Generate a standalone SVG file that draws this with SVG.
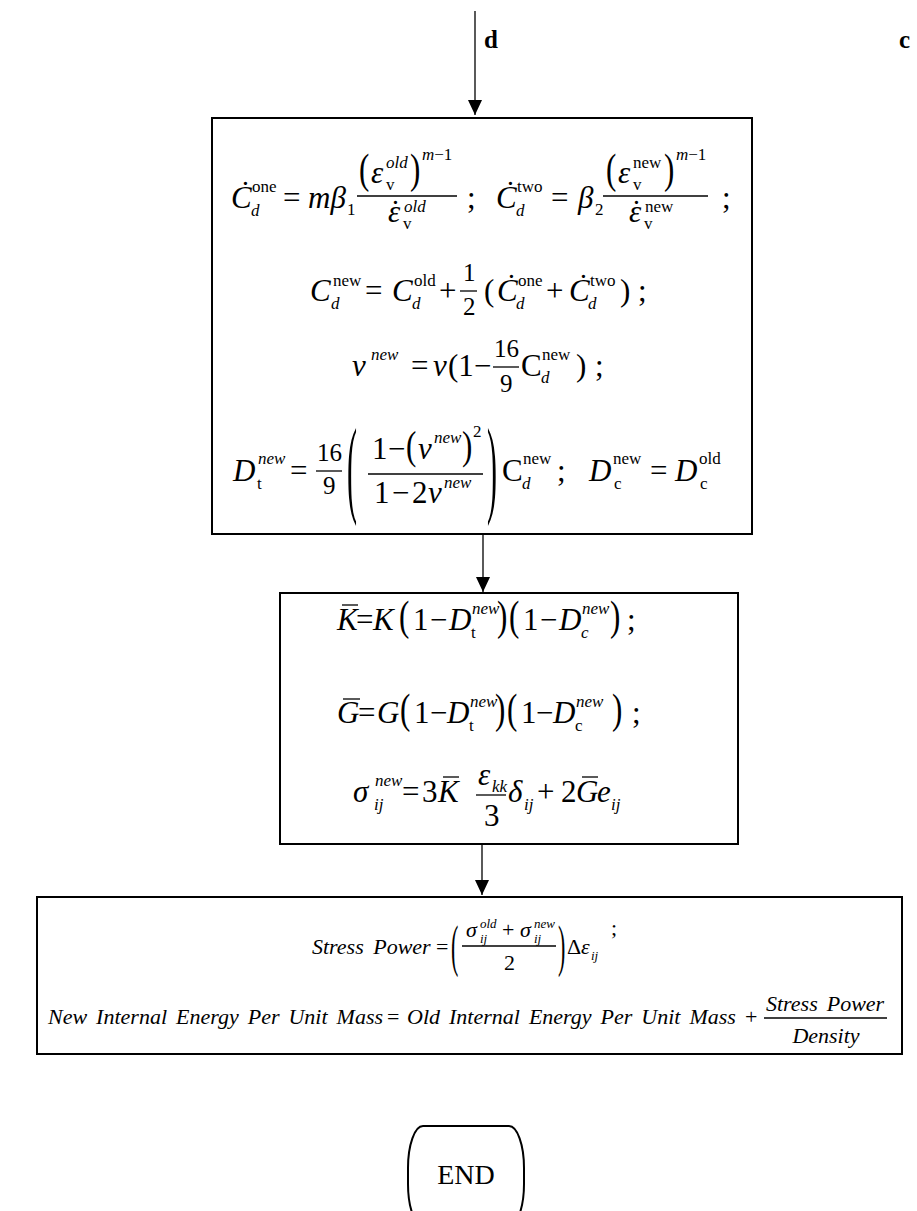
<svg xmlns="http://www.w3.org/2000/svg" width="917" height="1211" viewBox="0 0 917 1211">
<style>
text{font-family:"Liberation Serif","Times New Roman",serif;fill:#000}
.i{font-style:italic;font-size:31px}
.r{font-size:31px}
.f{font-size:25px}
.si{font-style:italic;font-size:17px}
.sr{font-size:17px}
.j{font-style:italic;font-size:22px}
.jr{font-size:22px}
.js{font-style:italic;font-size:13px}
.bd{font-weight:bold;font-size:25px}
.box{fill:none;stroke:#000;stroke-width:2}
.bar{stroke:#000;stroke-width:1.3}
.conn{stroke:#000;stroke-width:1.3;fill:none}
</style>
<defs>
<marker id="ah" viewBox="0 0 15 14" refX="15" refY="7" markerWidth="15" markerHeight="14" markerUnits="userSpaceOnUse" orient="auto">
<path d="M0,0 L15,7 L0,14 Z" fill="#000"/>
</marker>
</defs>
<rect width="917" height="1211" fill="#fff"/>

<g id="connectors">
<line class="conn" x1="475" y1="11" x2="475" y2="115" marker-end="url(#ah)"/>
<line class="conn" x1="483" y1="534" x2="483" y2="592" marker-end="url(#ah)"/>
<line class="conn" x1="482" y1="844" x2="482" y2="895" marker-end="url(#ah)"/>
<text class="bd" x="484" y="48">d</text>
<text class="bd" x="899" y="48">c</text>
</g>

<g id="box1">
<rect class="box" x="212" y="118" width="540" height="416"/>
<!-- line 1 -->
<text class="i" x="231" y="208">Ċ</text>
<text class="si" x="251" y="216">d</text>
<text class="sr" x="252" y="192">one</text>
<text class="r" x="283" y="208">=</text>
<text class="i" x="308" y="208">mβ</text>
<text class="sr" x="347" y="215">1</text>
<text class="r" transform="translate(359,183) scale(1,1.35)">(</text>
<text class="i" x="371" y="183">ε</text>
<text class="si" x="386" y="168">old</text>
<text class="sr" x="386" y="190">v</text>
<text class="r" transform="translate(410,183) scale(1,1.35)">)</text>
<text class="si" x="422" y="160">m<tspan font-style="normal">−1</tspan></text>
<line class="bar" x1="357" y1="196" x2="457" y2="196"/>
<text class="i" x="388" y="222">ε<tspan font-style="normal" dx="-10">˙</tspan></text>
<text class="si" x="404" y="212">old</text>
<text class="sr" x="403" y="229">v</text>
<text class="r" x="467" y="208">;</text>
<text class="i" x="496" y="208">Ċ</text>
<text class="si" x="516" y="216">d</text>
<text class="sr" x="517" y="192">two</text>
<text class="r" x="551" y="208">=</text>
<text class="i" x="578" y="208">β</text>
<text class="sr" x="595" y="215">2</text>
<text class="r" transform="translate(606,183) scale(1,1.35)">(</text>
<text class="i" x="618" y="183">ε</text>
<text class="sr" x="633" y="168">new</text>
<text class="sr" x="633" y="190">v</text>
<text class="r" transform="translate(664,183) scale(1,1.35)">)</text>
<text class="si" x="676" y="160">m<tspan font-style="normal">−1</tspan></text>
<line class="bar" x1="603" y1="196" x2="708" y2="196"/>
<text class="i" x="629" y="222">ε<tspan font-style="normal" dx="-10">˙</tspan></text>
<text class="sr" x="645" y="212">new</text>
<text class="sr" x="644" y="229">v</text>
<text class="r" x="722" y="208">;</text>
<!-- line 2 -->
<text class="i" x="310" y="301">C</text>
<text class="sr" x="333" y="286">new</text>
<text class="si" x="331" y="309">d</text>
<text class="r" x="365" y="301">=</text>
<text class="i" x="392" y="301">C</text>
<text class="sr" x="414" y="286">old</text>
<text class="si" x="412" y="309">d</text>
<text class="r" x="439" y="301">+</text>
<text class="f" x="463" y="281">1</text>
<line class="bar" x1="460" y1="291" x2="477" y2="291"/>
<text class="f" x="463" y="315">2</text>
<text class="r" x="484" y="301">(</text>
<text class="i" x="497" y="301">Ċ</text>
<text class="sr" x="518" y="286">one</text>
<text class="si" x="516" y="309">d</text>
<text class="r" x="546" y="301">+</text>
<text class="i" x="569" y="301">Ċ</text>
<text class="sr" x="590" y="286">two</text>
<text class="si" x="588" y="309">d</text>
<text class="r" x="620" y="301">)</text>
<text class="r" x="638" y="301">;</text>
<!-- line 3 -->
<text class="i" x="352" y="376">ν</text>
<text class="si" x="371" y="360">new</text>
<text class="r" x="411" y="376">=</text>
<text class="i" x="433" y="376">ν</text>
<text class="r" x="448" y="376">(1</text>
<text class="r" x="474" y="376">−</text>
<text class="f" x="494" y="357">16</text>
<line class="bar" x1="493" y1="367" x2="519" y2="367"/>
<text class="f" x="500" y="392">9</text>
<text class="r" x="521" y="376">C</text>
<text class="sr" x="542" y="360">new</text>
<text class="si" x="541" y="383">d</text>
<text class="r" x="576" y="376">)</text>
<text class="r" x="595" y="376">;</text>
<!-- line 4 -->
<text class="i" x="233" y="481">D</text>
<text class="si" x="258" y="464">new</text>
<text class="sr" x="257" y="489">t</text>
<text class="r" x="290" y="481">=</text>
<text class="f" x="317" y="461">16</text>
<line class="bar" x1="316" y1="471" x2="342" y2="471"/>
<text class="f" x="323" y="494">9</text>
<text style="font-size:30px" transform="translate(347,503.4) scale(1,3.6)">(</text>
<text class="r" x="372" y="459">1</text>
<text class="r" x="388" y="459">−</text>
<text class="r" transform="translate(406,459) scale(1,1.3)">(</text>
<text class="i" x="418" y="459">ν</text>
<text class="si" x="434" y="443">new</text>
<text class="r" transform="translate(462,459) scale(1,1.3)">)</text>
<text class="sr" x="473" y="437">2</text>
<line class="bar" x1="368" y1="474" x2="483" y2="474"/>
<text class="r" x="374" y="503">1</text>
<text class="r" x="392" y="503">−</text>
<text class="r" x="412" y="503">2</text>
<text class="i" x="428" y="503">ν</text>
<text class="si" x="444" y="488">new</text>
<text style="font-size:30px" transform="translate(487,503.4) scale(1,3.6)">)</text>
<text class="r" x="502" y="481">C</text>
<text class="sr" x="523" y="464">new</text>
<text class="si" x="522" y="489">d</text>
<text class="r" x="557" y="481">;</text>
<text class="i" x="589" y="481">D</text>
<text class="sr" x="613" y="464">new</text>
<text class="sr" x="614" y="489">c</text>
<text class="r" x="650" y="481">=</text>
<text class="i" x="675" y="481">D</text>
<text class="sr" x="699" y="464">old</text>
<text class="sr" x="700" y="489">c</text>
</g>

<g id="box2">
<rect class="box" x="280" y="593" width="458" height="251"/>
<!-- K line -->
<text class="i" x="337" y="630">K</text>
<line class="bar" x1="342" y1="605" x2="358" y2="605"/>
<text class="r" x="356" y="630">=</text>
<text class="i" x="373" y="630">K</text>
<text class="r" transform="translate(399,630) scale(1,1.35)">(</text>
<text class="r" x="413" y="630">1</text>
<text class="r" x="430" y="630">−</text>
<text class="i" x="449" y="630">D</text>
<text class="si" x="472" y="614">new</text>
<text class="sr" x="471" y="638">t</text>
<text class="r" transform="translate(497,630) scale(1,1.35)">)</text>
<text class="r" transform="translate(509,630) scale(1,1.35)">(</text>
<text class="r" x="523" y="630">1</text>
<text class="r" x="540" y="630">−</text>
<text class="i" x="559" y="630">D</text>
<text class="si" x="582" y="614">new</text>
<text class="si" x="581" y="638">c</text>
<text class="r" transform="translate(610,630) scale(1,1.35)">)</text>
<text class="r" x="627" y="630">;</text>
<!-- G line -->
<text class="i" x="337" y="723">G</text>
<line class="bar" x1="343" y1="699" x2="360" y2="699"/>
<text class="r" x="358" y="723">=</text>
<text class="i" x="377" y="723">G</text>
<text class="r" transform="translate(400,723) scale(1,1.35)">(</text>
<text class="r" x="414" y="723">1</text>
<text class="r" x="430" y="723">−</text>
<text class="i" x="447" y="723">D</text>
<text class="si" x="470" y="707">new</text>
<text class="sr" x="469" y="731">t</text>
<text class="r" transform="translate(495,723) scale(1,1.35)">)</text>
<text class="r" transform="translate(507,723) scale(1,1.35)">(</text>
<text class="r" x="521" y="723">1</text>
<text class="r" x="536" y="723">−</text>
<text class="i" x="553" y="723">D</text>
<text class="si" x="576" y="707">new</text>
<text class="sr" x="575" y="731">c</text>
<text class="r" transform="translate(612,723) scale(1,1.35)">)</text>
<text class="r" x="632" y="723">;</text>
<!-- sigma line -->
<text class="i" x="353" y="802">σ</text>
<text class="si" x="375" y="786">new</text>
<text class="si" x="374" y="810">ij</text>
<text class="r" x="402" y="802">=</text>
<text class="r" x="422" y="802">3</text>
<text class="i" x="438" y="802">K</text>
<line class="bar" x1="443" y1="777" x2="459" y2="777"/>
<text class="i" x="478" y="785">ε</text>
<text class="si" x="492" y="792">kk</text>
<line class="bar" x1="476" y1="795" x2="506" y2="795"/>
<text class="r" x="484" y="826">3</text>
<text class="i" x="508" y="802">δ</text>
<text class="si" x="524" y="810">ij</text>
<text class="r" x="537" y="802">+</text>
<text class="r" x="561" y="802">2</text>
<text class="i" x="576" y="802">G</text>
<line class="bar" x1="582" y1="777" x2="598" y2="777"/>
<text class="i" x="597" y="802">e</text>
<text class="si" x="611" y="810">ij</text>
</g>

<g id="box3">
<rect class="box" x="37" y="897" width="865" height="157"/>
<text class="j" x="312" y="954" word-spacing="4">Stress Power</text>
<text class="jr" x="436" y="954">=</text>
<text class="jr" transform="translate(451,965) scale(1,2.6)">(</text>
<text class="j" x="466" y="937">σ</text>
<text class="js" x="480" y="928">old</text>
<text class="js" x="480" y="943">ij</text>
<text class="jr" x="502" y="937">+</text>
<text class="j" x="520" y="937">σ</text>
<text class="js" x="534" y="928">new</text>
<text class="js" x="534" y="943">ij</text>
<line class="bar" x1="462" y1="946" x2="556" y2="946"/>
<text class="jr" x="504" y="970">2</text>
<text class="jr" transform="translate(558,965) scale(1,2.6)">)</text>
<text class="jr" x="567" y="954">Δ</text>
<text class="j" x="581" y="954">ε</text>
<text class="js" x="591" y="960">ij</text>
<text class="jr" x="611" y="935">;</text>
<text class="j" x="48" y="1024" word-spacing="3.5">New Internal Energy Per Unit Mass</text>
<text class="jr" x="387" y="1024">=</text>
<text class="j" x="407" y="1024" word-spacing="3.5">Old Internal Energy Per Unit Mass</text>
<text class="jr" x="745" y="1024">+</text>
<text class="j" x="766" y="1011" word-spacing="3.5">Stress Power</text>
<line class="bar" x1="764" y1="1018" x2="887" y2="1018"/>
<text class="j" x="826" y="1043" text-anchor="middle">Density</text>
</g>

<g id="end">
<rect class="box" x="408" y="1126" width="116" height="100" rx="15" ry="42"/>
<text class="r" style="font-size:28px" x="466" y="1184" text-anchor="middle">END</text>
</g>
</svg>
